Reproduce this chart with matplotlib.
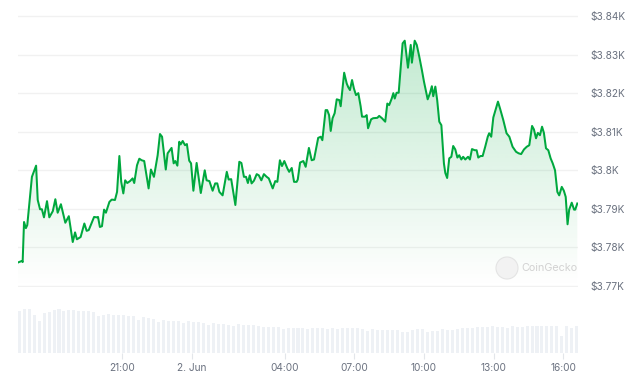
import numpy as np
import matplotlib
matplotlib.use("Agg")
import matplotlib.pyplot as plt
from matplotlib.patches import Polygon, Ellipse

# ---------------- data ----------------
# time in hours relative to 2 Jun 00:00
hours = [-7.50, -7.33, -7.30, -7.24, -7.16, -7.10, -6.90, -6.72, -6.65, -6.55,
         -6.47, -6.38, -6.25, -6.15, -6.00, -5.89, -5.79, -5.65, -5.46, -5.31,
         -5.14, -5.04, -4.96, -4.80, -4.64, -4.54, -4.45, -4.22, -4.11, -4.05,
         -3.97, -3.88, -3.79, -3.71, -3.56, -3.46, -3.32, -3.23, -3.13, -3.05,
         -2.96, -2.88, -2.79, -2.67, -2.56, -2.49, -2.37, -2.27, -2.17, -2.06,
         -1.87, -1.77, -1.64, -1.48, -1.38, -1.29, -1.13, -1.05, -0.88, -0.79,
         -0.72, -0.63, -0.55, -0.49, -0.40, -0.30, -0.22, -0.12, -0.04, 0.06,
         0.20, 0.38, 0.55, 0.63, 0.75, 0.89, 1.00, 1.09, 1.18, 1.32,
         1.50, 1.58, 1.69, 1.87, 2.04, 2.13, 2.24, 2.33, 2.41, 2.49,
         2.57, 2.67, 2.79, 2.88, 2.99, 3.10, 3.22, 3.31, 3.48, 3.59,
         3.68, 3.79, 3.88, 3.98, 4.11, 4.19, 4.30, 4.40, 4.51, 4.56,
         4.66, 4.80, 4.90, 5.04, 5.16, 5.26, 5.44, 5.55, 5.62, 5.76,
         5.83, 5.91, 5.98, 6.06, 6.15, 6.24, 6.35, 6.41, 6.50, 6.56,
         6.67, 6.74, 6.81, 6.90, 6.98, 7.07, 7.17, 7.27, 7.33, 7.46,
         7.53, 7.59, 7.72, 7.81, 7.99, 8.07, 8.19, 8.33, 8.42, 8.50,
         8.61, 8.68, 8.74, 8.82, 8.91, 9.00, 9.08, 9.17, 9.22, 9.31,
         9.43, 9.48, 9.60, 9.69, 9.80, 9.91, 10.00, 10.16, 10.26, 10.34,
         10.40, 10.49, 10.57, 10.66, 10.75, 10.86, 10.92, 11.00, 11.09, 11.18,
         11.26, 11.35, 11.44, 11.52, 11.61, 11.69, 11.78, 11.90, 11.98, 12.07,
         12.19, 12.27, 12.34, 12.44, 12.53, 12.64, 12.75, 12.81, 12.90, 12.99,
         13.10, 13.19, 13.28, 13.42, 13.56, 13.68, 13.82, 13.97, 14.08, 14.19,
         14.31, 14.43, 14.54, 14.66, 14.74, 14.83, 14.91, 15.00, 15.09, 15.17,
         15.26, 15.36, 15.46, 15.55, 15.65, 15.75, 15.83, 15.94, 16.03, 16.11,
         16.19, 16.26, 16.37, 16.47, 16.52, 16.61]

price = [3776.1, 3776.5, 3776.2, 3786.6, 3785.0, 3785.8, 3798.3, 3801.2, 3792.3, 3789.9,
         3789.9, 3787.8, 3792.0, 3787.8, 3789.4, 3792.5, 3789.0, 3791.2, 3786.4, 3788.1,
         3781.4, 3783.9, 3782.1, 3782.7, 3786.2, 3784.3, 3784.5, 3787.9, 3787.8, 3787.9,
         3785.3, 3785.5, 3789.8, 3789.0, 3791.8, 3792.4, 3792.3, 3794.4, 3803.7, 3797.0,
         3794.0, 3797.4, 3796.7, 3797.2, 3797.9, 3796.7, 3801.3, 3803.0, 3802.6, 3802.4,
         3795.3, 3800.2, 3798.3, 3803.9, 3809.4, 3808.7, 3800.2, 3804.4, 3805.8, 3801.8,
         3802.4, 3801.2, 3807.4, 3806.7, 3807.6, 3806.5, 3806.8, 3802.5, 3801.8, 3794.7,
         3801.9, 3794.1, 3800.0, 3797.4, 3797.2, 3794.7, 3796.6, 3796.6, 3794.4, 3793.5,
         3799.6, 3797.6, 3797.7, 3791.0, 3802.2, 3801.9, 3798.3, 3798.3, 3796.7, 3798.7,
         3796.6, 3797.3, 3799.0, 3798.7, 3797.4, 3799.0, 3798.3, 3797.9, 3795.3, 3797.2,
         3797.0, 3802.6, 3801.1, 3802.4, 3800.5, 3799.6, 3800.6, 3797.0, 3797.0, 3797.6,
         3802.0, 3802.4, 3800.9, 3805.8, 3802.6, 3802.8, 3808.4, 3808.7, 3807.8, 3815.6,
         3815.6, 3814.3, 3810.2, 3813.5, 3814.8, 3818.4, 3818.2, 3816.6, 3821.7, 3825.3,
         3822.5, 3821.5, 3820.8, 3823.4, 3821.2, 3819.5, 3820.0, 3816.6, 3813.9, 3813.9,
         3814.3, 3810.9, 3813.2, 3813.5, 3813.6, 3814.1, 3813.5, 3812.6, 3817.3, 3816.9,
         3818.6, 3820.0, 3818.6, 3820.1, 3820.1, 3826.8, 3832.9, 3833.6, 3831.2, 3826.6,
         3832.5, 3827.9, 3833.6, 3832.5, 3829.4, 3826.0, 3823.0, 3818.4, 3820.0, 3821.8,
         3819.2, 3821.7, 3818.2, 3812.6, 3811.7, 3801.8, 3799.3, 3798.0, 3803.1, 3803.5,
         3806.3, 3805.4, 3803.3, 3803.9, 3802.8, 3803.5, 3802.8, 3803.5, 3802.8, 3805.5,
         3805.2, 3805.2, 3803.3, 3803.7, 3803.7, 3806.1, 3808.7, 3809.6, 3808.7, 3813.7,
         3816.0, 3817.8, 3816.0, 3813.0, 3809.6, 3808.7, 3806.1, 3804.8, 3804.4, 3804.2,
         3805.4, 3806.1, 3806.5, 3811.5, 3810.6, 3808.3, 3809.7, 3809.1, 3811.3, 3809.7,
         3805.7, 3805.2, 3803.1, 3801.8, 3800.0, 3794.4, 3793.5, 3795.7, 3794.7, 3793.1,
         3786.0, 3789.8, 3791.6, 3789.8, 3789.8, 3791.4]

# relative trading volume, evenly spaced bars across the window
vol = [42, 44, 44, 38, 32, 40, 41, 43, 44, 42,
       43, 43, 42, 42, 42, 41, 37, 38, 39, 38.5,
       38, 38, 37.5, 37, 33, 36.5, 35, 34.5, 31, 33,
       32.6, 32.2, 32, 30, 32, 31.5, 31, 30.6, 28, 30,
       29.5, 29, 28, 27, 29, 28, 28, 28, 27.3, 26.6,
       26.6, 26.6, 26.6, 24.3, 25.3, 25.3, 25.3, 25, 24.3, 25,
       25.3, 25, 24.6, 25, 24.8, 25, 25.3, 25, 25, 24,
       22, 24, 23.3, 23, 23.3, 23.5, 23.3, 21, 21.6, 23,
       24, 24, 21.6, 22, 22.5, 24.3, 23.3, 23.3, 24, 25,
       25.6, 25.6, 26, 26.6, 26.6, 27, 26.8, 26.6, 25, 27,
       26.8, 26.6, 27.3, 27.5, 27.6, 27.3, 27.3, 27.5, 27.6, 17,
       27, 25, 27.3]

t_start, t_end = -7.50, 16.64
tick_hours = [-3, 0, 4, 7, 10, 13, 16]
tick_labels = ["21:00", "2. Jun", "04:00", "07:00", "10:00", "13:00", "16:00"]
y_ticks = [3770, 3780, 3790, 3800, 3810, 3820, 3830, 3840]
y_labels = [r"\$3.77K", r"\$3.78K", r"\$3.79K", r"\$3.8K", r"\$3.81K",
            r"\$3.82K", r"\$3.83K", r"\$3.84K"]

# ---------------- style ----------------
W, H = 630, 377
GREEN = "#00a83e"
GRID = "#f1f1f1"
TXT = "#6b7280"
FONT = ["Inter", "DejaVu Sans"]
plt.rcParams["font.family"] = FONT

fig = plt.figure(figsize=(W / 100, H / 100), dpi=100)

def px_axes(x0, y_top, x1, y_bot):
    return fig.add_axes([x0 / W, (H - y_bot) / H, (x1 - x0) / W, (y_bot - y_top) / H])

# main price axes
ylo, yhi = 3769.8, 3840.2
ax = px_axes(18, 15.23, 578, 286.77)
ax.set_xlim(t_start, t_end)
ax.set_ylim(ylo, yhi)
for s in ax.spines.values():
    s.set_visible(False)
ax.set_yticks(y_ticks)
ax.set_yticklabels(y_labels)
ax.yaxis.tick_right()
ax.tick_params(axis="y", length=0, pad=9, labelsize=7.3, labelcolor=TXT)
ax.set_xticks([])
ax.grid(axis="y", color=GRID, linewidth=1.0)
ax.set_axisbelow(True)

# gradient fill under line
h_arr = np.asarray(hours)
p_arr = np.asarray(price)
verts = np.column_stack([np.r_[h_arr[0], h_arr, h_arr[-1]],
                         np.r_[ylo, p_arr, ylo]])
poly = Polygon(verts, closed=True, facecolor="none", edgecolor="none")
ax.add_patch(poly)
rgb = matplotlib.colors.to_rgb(GREEN)
grad = np.zeros((256, 1, 4))
grad[..., 0] = rgb[0]
grad[..., 1] = rgb[1]
grad[..., 2] = rgb[2]
grad[:, 0, 3] = np.linspace(0.0, 0.24, 256)
im = ax.imshow(grad, extent=[h_arr[0], h_arr[-1], ylo, p_arr.max()],
               origin="lower", aspect="auto", zorder=1, interpolation="bilinear")
im.set_clip_path(poly)
ax.set_xlim(t_start, t_end)
ax.set_ylim(ylo, yhi)

ax.plot(hours, price, color=GREEN, linewidth=1.45, zorder=3,
        solid_joinstyle="round")

# volume axes
vax = px_axes(18, 307.3, 578, 353.3)
vt = np.linspace(t_start + 0.05, t_end - 0.05, len(vol))
vax.bar(vt, vol, width=0.13, color="#eef1f5", linewidth=0)
vax.set_xlim(t_start, t_end)
vax.set_ylim(0, 46)
for s in vax.spines.values():
    s.set_visible(False)
vax.set_yticks([])
vax.set_xticks(tick_hours)
vax.set_xticklabels(tick_labels)
vax.tick_params(axis="x", length=4, width=0.8, color="#e3e6ea", pad=3,
                labelsize=7.3, labelcolor=TXT)

# watermark
fig.patches.append(Ellipse((507 / W, (H - 268) / H), 22 / W, 22 / H,
                           transform=fig.transFigure,
                           facecolor="#f2f2f2", edgecolor="#e4e4e4", linewidth=0.8,
                           zorder=5))
fig.text(521 / W, (H - 268) / H, "CoinGecko", fontsize=7.8, color="#d2d2d2",
         va="center", ha="left", zorder=6)

fig.savefig("out.png", dpi=100)
